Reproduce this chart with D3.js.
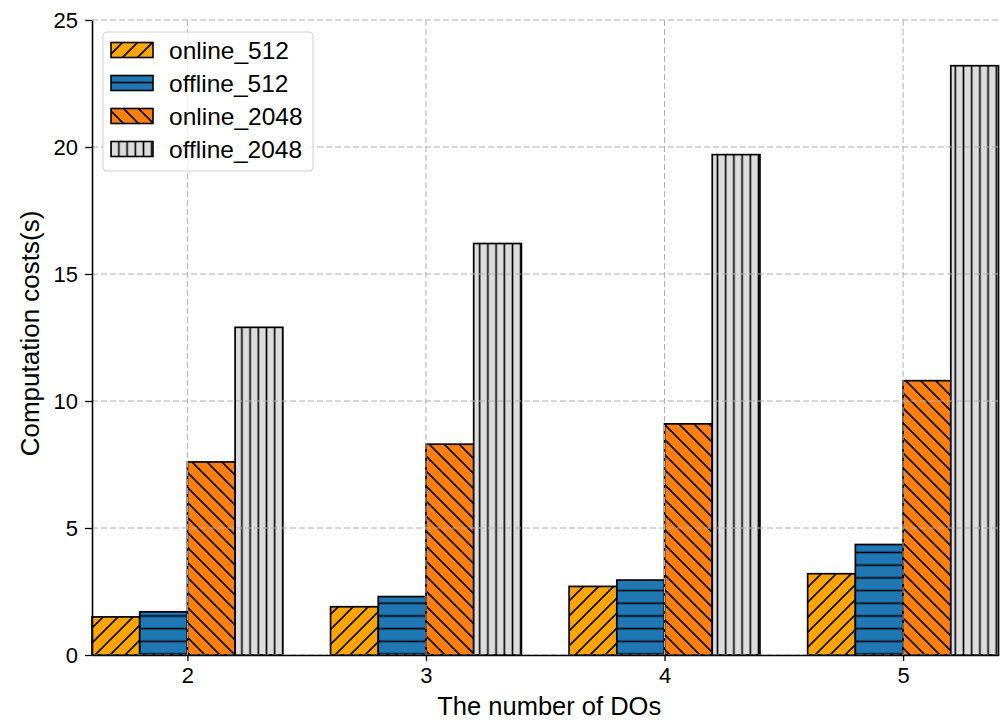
<!DOCTYPE html>
<html>
<head>
<meta charset="utf-8">
<script src="https://cdn.jsdelivr.net/npm/d3@7"></script>
<style>
  html, body { margin: 0; padding: 0; background: #fff; }
  svg { display: block; font-family: "Liberation Sans", Arial, Helvetica, sans-serif; }
</style>
</head>
<body>
<svg id="chart" width="1008" height="722"></svg>
<script>
// Number of data owners on the x axis
const doCounts = [2, 3, 4, 5];
// Computation costs in seconds
const online512 = [1.5, 1.9, 2.7, 3.2];
const offline512 = [1.7, 2.3, 2.95, 4.35];
const online2048 = [7.6, 8.3, 9.1, 10.8];
const offline2048 = [12.9, 16.2, 19.7, 23.2];
const seriesNames = ["online_512", "offline_512", "online_2048", "offline_2048"];
const yTicks = [0, 5, 10, 15, 20, 25];

const series = [
  { name: seriesNames[0], values: online512, color: "#FFA500", hatch: "fwd" },
  { name: seriesNames[1], values: offline512, color: "#1f77b4", hatch: "horiz" },
  { name: seriesNames[2], values: online2048, color: "#ff7f0e", hatch: "back" },
  { name: seriesNames[3], values: offline2048, color: "#dcdcdc", hatch: "vert" }
];

const svg = d3.select("#chart");
const plot = { left: 92, right: 998.5, top: 20, bottom: 655 };
const barWidth = 0.2;

const x = d3.scaleLinear().domain([1.6, 5.4]).range([plot.left, plot.right]);
const y = d3.scaleLinear().domain([0, 25]).range([plot.bottom, plot.top]);

// Hatch patterns
const defs = svg.append("defs");
function addPattern(id, kind, color) {
  const p = kind === "vert" ? 8.2 : (kind === "horiz" ? 12.7 : 15);
  const pat = defs.append("pattern")
    .attr("id", id)
    .attr("patternUnits", "userSpaceOnUse")
    .attr("width", p).attr("height", p);
  pat.append("rect").attr("width", p).attr("height", p).attr("fill", color);
  let d;
  if (kind === "fwd") {
    d = `M0,${p} L${p},0 M${-p / 2},${p / 2} L${p / 2},${-p / 2} M${p / 2},${1.5 * p} L${1.5 * p},${p / 2}`;
  } else if (kind === "back") {
    d = `M0,0 L${p},${p} M${-p / 2},${p / 2} L${p / 2},${1.5 * p} M${p / 2},${-p / 2} L${1.5 * p},${p / 2}`;
  } else if (kind === "horiz") {
    d = `M0,${p / 2} H${p}`;
  } else {
    d = `M${p / 2},0 V${p}`;
  }
  pat.append("path").attr("d", d).attr("stroke", "#000").attr("stroke-width", 1.6).attr("fill", "none");
}
series.forEach((s, i) => addPattern("hatch" + i, s.hatch, s.color));

// Bars
series.forEach((s, i) => {
  svg.append("g").selectAll("rect")
    .data(doCounts.map((d, j) => ({ d, v: s.values[j] })))
    .join("rect")
    .attr("x", e => x(e.d - 0.4 + i * barWidth))
    .attr("width", x(barWidth) - x(0))
    .attr("y", e => y(e.v))
    .attr("height", e => y(0) - y(e.v))
    .attr("fill", `url(#hatch${i})`)
    .attr("stroke", "#000")
    .attr("stroke-width", 1.7);
});

// Grid lines, drawn above the bars
const grid = svg.append("g")
  .attr("stroke", "#b0b0b0")
  .attr("stroke-width", 1)
  .attr("stroke-dasharray", "6,3");
grid.selectAll("line.h").data(yTicks).join("line")
  .attr("class", "h")
  .attr("x1", plot.left).attr("x2", plot.right)
  .attr("y1", d => y(d)).attr("y2", d => y(d));
grid.selectAll("line.v").data(doCounts).join("line")
  .attr("class", "v")
  .attr("x1", d => x(d)).attr("x2", d => x(d))
  .attr("y1", plot.top).attr("y2", plot.bottom);

// Axes
const xAxis = svg.append("g")
  .attr("transform", `translate(0,${plot.bottom})`)
  .call(d3.axisBottom(x).tickValues(doCounts).tickFormat(d3.format("d")).tickSizeInner(6).tickSizeOuter(0).tickPadding(6));
const yAxis = svg.append("g")
  .attr("transform", `translate(${plot.left},0)`)
  .call(d3.axisLeft(y).tickValues(yTicks).tickSizeInner(7).tickSizeOuter(0).tickPadding(7));

[xAxis, yAxis].forEach(a => {
  a.select(".domain").attr("stroke", "#000").attr("stroke-width", 1.6);
  a.selectAll(".tick line").attr("stroke", "#000").attr("stroke-width", 1.3);
  a.selectAll(".tick text")
    .attr("fill", "#000")
    .style("font-family", "'Liberation Sans', Arial, sans-serif")
    .style("font-size", "22px");
});

// Axis titles
svg.append("text")
  .attr("x", (plot.left + plot.right) / 2 + 4)
  .attr("y", 715)
  .attr("text-anchor", "middle")
  .style("font-size", "25.5px")
  .text("The number of DOs");

svg.append("text")
  .attr("transform", `translate(39,${(plot.top + plot.bottom) / 2 - 4}) rotate(-90)`)
  .attr("text-anchor", "middle")
  .style("font-size", "26px")
  .text("Computation costs(s)");

// Legend
const legend = svg.append("g");
legend.append("rect")
  .attr("x", 103).attr("y", 32)
  .attr("width", 210).attr("height", 139)
  .attr("rx", 4).attr("ry", 4)
  .attr("fill", "#fff").attr("fill-opacity", 0.8)
  .attr("stroke", "#d0d0d0").attr("stroke-width", 1);
const rowY = [50, 83, 116, 149];
series.forEach((s, i) => {
  legend.append("rect")
    .attr("x", 111).attr("y", rowY[i] - 7.5)
    .attr("width", 42).attr("height", 15)
    .attr("fill", `url(#hatch${i})`)
    .attr("stroke", "#000").attr("stroke-width", 1.6);
  legend.append("text")
    .attr("x", 169).attr("y", rowY[i])
    .attr("dy", "0.35em")
    .style("font-size", "24.5px")
    .text(s.name);
});
</script>
</body>
</html>
